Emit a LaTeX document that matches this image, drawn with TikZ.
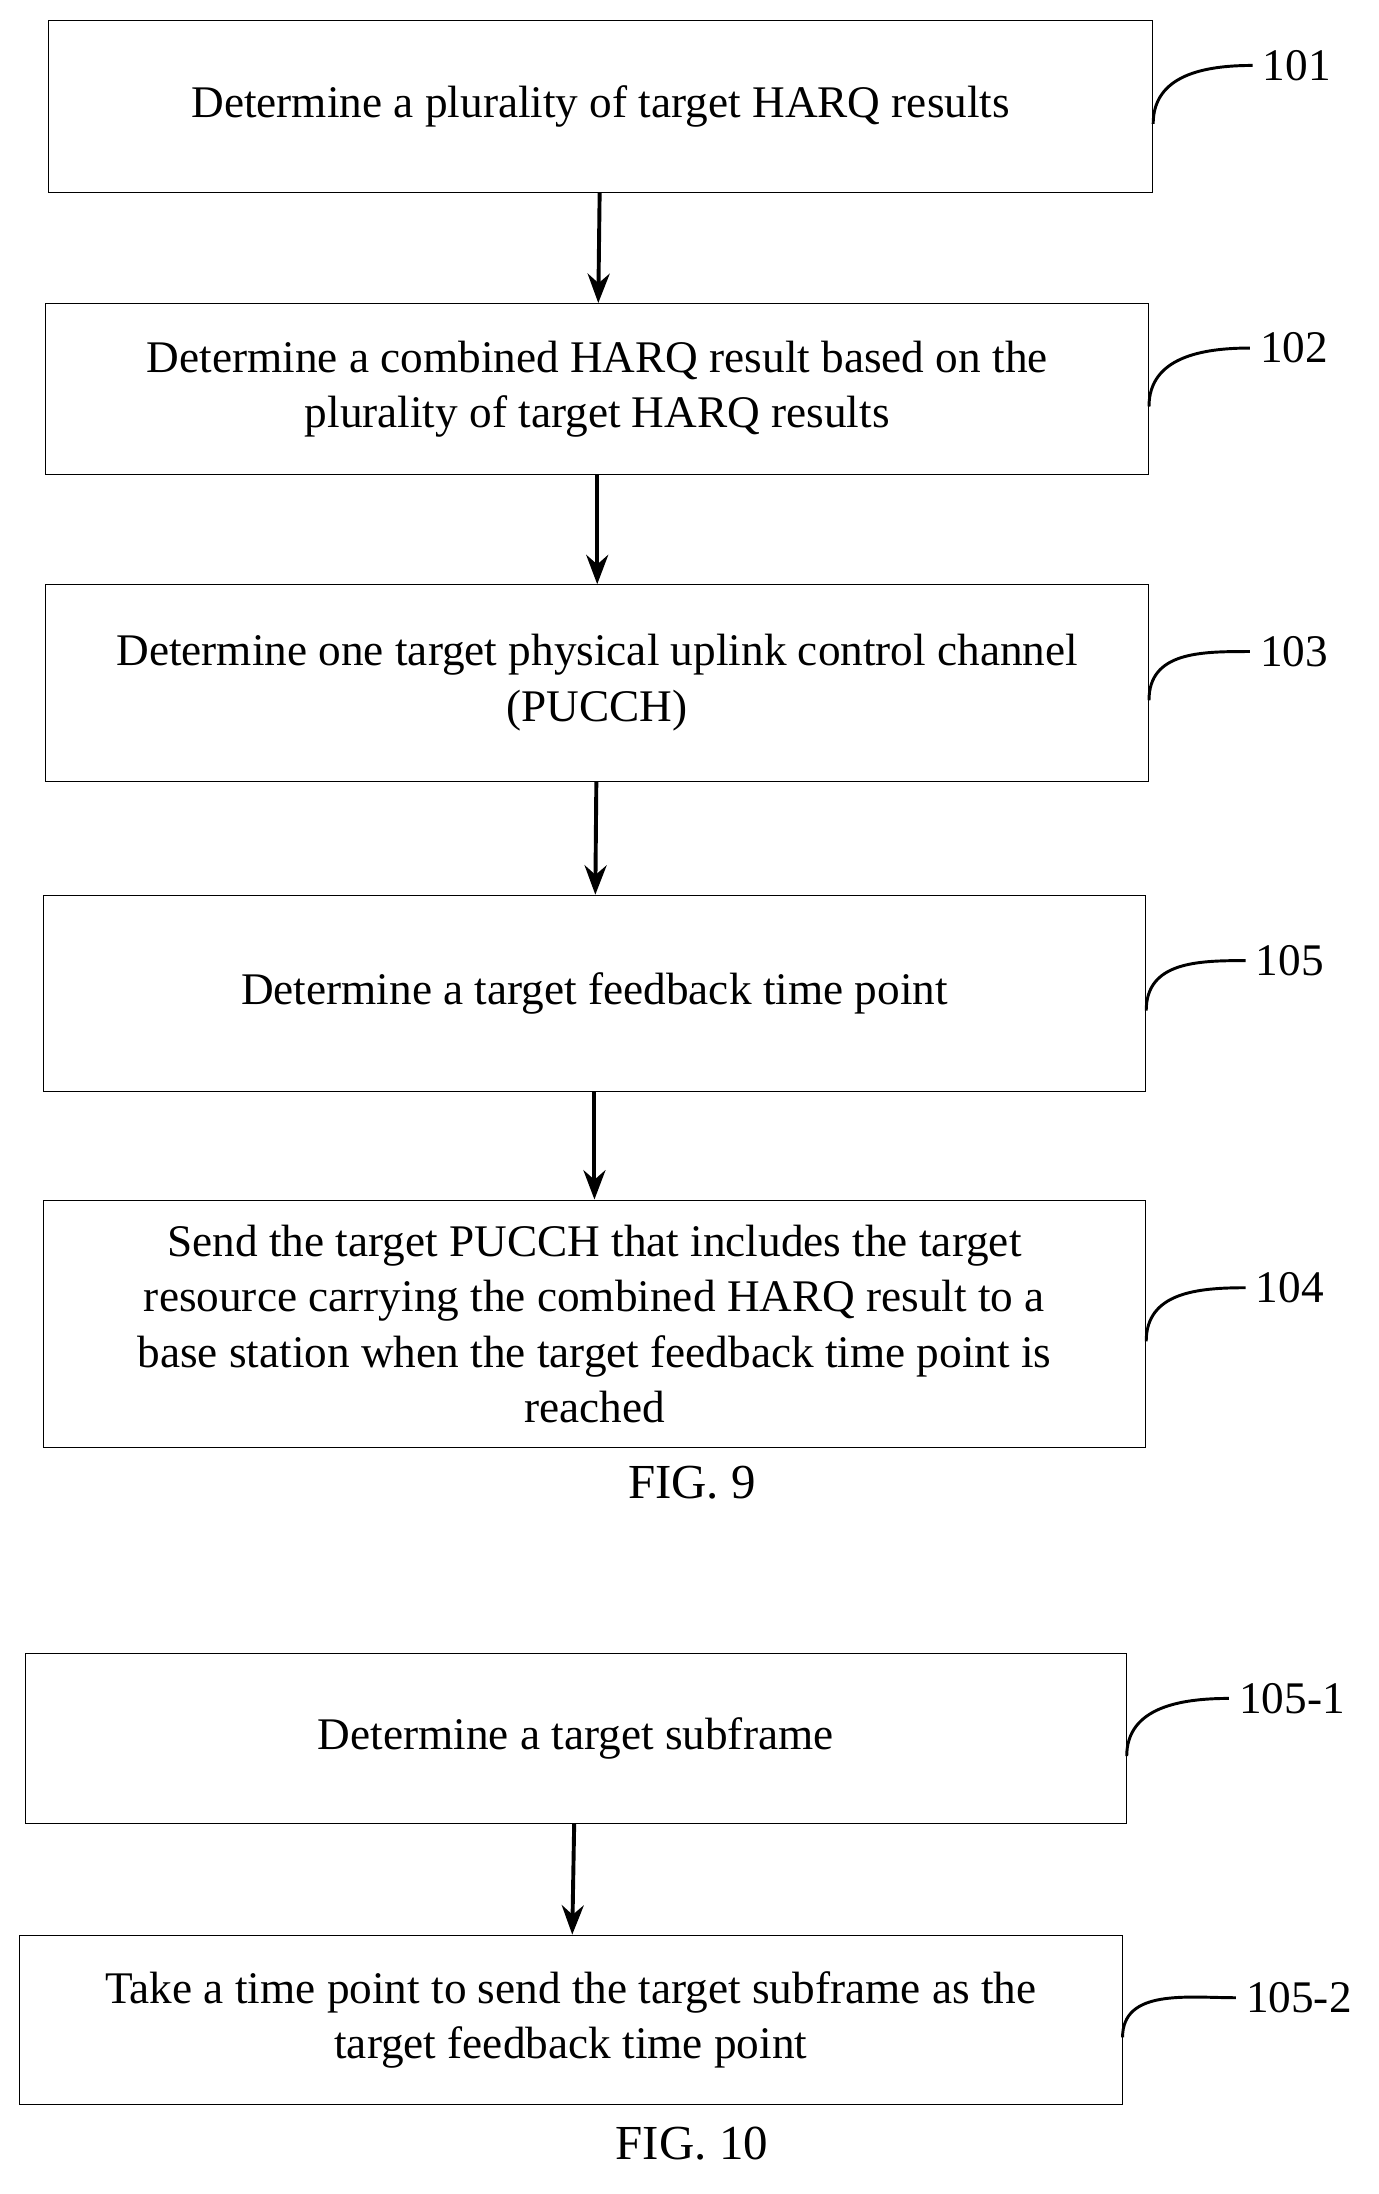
\documentclass[tikz,border=0pt]{standalone}
\usepackage{fontspec}
\setmainfont{Liberation Serif}
\usetikzlibrary{arrows.meta}
\begin{document}
\begin{tikzpicture}[x=0.02cm, y=-0.02cm, align=center, font=\fontsize{18.5}{22.7}\selectfont,
  stepbox/.style={draw, inner sep=0pt},
  tag/.style={anchor=west, inner sep=1pt},
  flow/.style={-{Stealth[length=12pt,width=9pt]}, line width=1.6pt},
  hook/.style={line width=1.2pt}]
\useasboundingbox (0,0) rectangle (990,1576);

% FIG. 9
\node[stepbox, minimum width=793*0.02cm, minimum height=123*0.02cm] (s101) at (431.5,76.5) {Determine a plurality of target HARQ results};
\node[stepbox, minimum width=792*0.02cm, minimum height=123*0.02cm] (s102) at (429,279.5) {Determine a combined HARQ result based on the\\ plurality of target HARQ results};
\node[stepbox, minimum width=792*0.02cm, minimum height=141*0.02cm] (s103) at (429,490.5) {Determine one target physical uplink control channel\\ (PUCCH)};
\node[stepbox, minimum width=792*0.02cm, minimum height=141*0.02cm] (s105) at (427,713.5) {Determine a target feedback time point};
\node[stepbox, minimum width=792*0.02cm, minimum height=178*0.02cm] (s104) at (427,951) {Send the target PUCCH that includes the target\\ resource carrying the combined HARQ result to a\\ base station when the target feedback time point is\\ reached};
\node (fig9) at (497,1065) {\fontsize{20}{24}\selectfont FIG. 9};

\node[tag] (t101) at (905,47) {101};
\node[tag] (t102) at (903,250) {102};
\node[tag] (t103) at (903,468) {103};
\node[tag] (t105) at (900,690) {105};
\node[tag] (t104) at (900,925) {104};

% FIG. 10
\node[stepbox, minimum width=791*0.02cm, minimum height=122*0.02cm] (s1051) at (413.5,1249) {Determine a target subframe};
\node[stepbox, minimum width=792*0.02cm, minimum height=122*0.02cm] (s1052) at (410,1451) {Take a time point to send the target subframe as the\\ target feedback time point};
\node (fig10) at (497,1540) {\fontsize{20}{24}\selectfont FIG. 10};

\node[tag] (t1051) at (888,1220) {105-1};
\node[tag] (t1052) at (893,1435) {105-2};

% arrows
\draw[flow] (s101) -- (s102);
\draw[flow] (s102) -- (s103);
\draw[flow] (s103) -- (s105);
\draw[flow] (s105) -- (s104);
\draw[flow] (s1051) -- (s1052);

% step labels
\foreach \b/\t in {s101/t101, s102/t102, s103/t103, s105/t105, s104/t104, s1051/t1051, s1052/t1052}
  \draw[hook] ([yshift=-0.25cm]\b.east) .. controls +(0cm,0.7cm) and +(-0.7cm,0cm) .. ([xshift=-3pt]\t.west);

\end{tikzpicture}
\end{document}
